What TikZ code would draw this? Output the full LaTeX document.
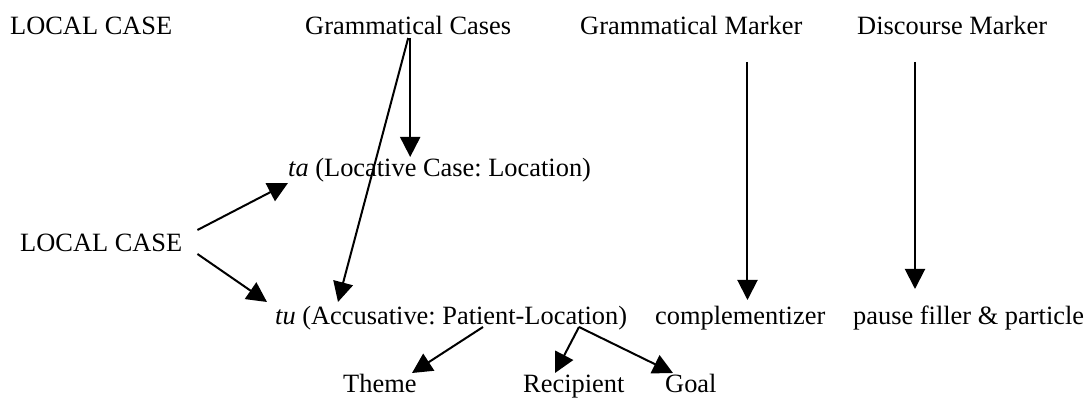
\documentclass[tikz,border=0pt]{standalone}
\usepackage{fontspec}
\setmainfont{Liberation Serif}
\usetikzlibrary{arrows.meta,calc}
\frenchspacing

\begin{document}
\begin{tikzpicture}[x=1pt,y=-1pt,
    lbl/.style={inner sep=0pt,anchor=base west,font=\fontsize{26.4}{30}\selectfont},
    arr/.style={line width=2pt,-{Triangle[length=20pt,width=20pt]}}]
        \useasboundingbox (0,0) rectangle (1088,398);
        % headings
        \node[lbl] (lcTop) at (10,35) {LOCAL CASE};
        \node[lbl] (gc) at (305,35) {Grammatical Cases};
        \node[lbl] (gm) at (580,35) {Grammatical Marker};
        \node[lbl] (dm) at (857,35) {Discourse Marker};
        % cases
        \node[lbl] (ta) at (288,177) {\textit{ta} (Locative Case: Location)};
        \node[lbl] (lc) at (20,252) {LOCAL CASE};
        \node[lbl] (tu) at (275,324) {\textit{tu} (Accusative: Patient-Location)};
        \node[lbl] (comp) at (655,324) {complementizer};
        \node[lbl] (pf) at (853,324) {pause filler \& particle};
        % roles
        \node[lbl] (theme) at (343,392) {Theme};
        \node[lbl] (rec) at (523,392) {Recipient};
        \node[lbl] (goal) at (665,392) {Goal};
        % arrows
        \draw[arr] ($(gc.base)+(2pt,-3pt)$) -- ($(gc.base |- ta.base)+(2pt,20pt)$);
        \draw[arr] ($(gc.base)+(0pt,-3pt)$) -- ($(tu.base west)+(63pt,22pt)$);
        \draw[arr] ($(lc.base east)+(15pt,22pt)$) -- ($(ta.base west)+(0pt,-6pt)$);
        \draw[arr] ($(lc.base east)+(15pt,-2pt)$) -- ($(tu.base west)+(-8pt,22pt)$);
        \draw[arr] ($(gm.base east)+(-55pt,-27pt)$) -- ($(gm.base east |- comp.base)+(-55pt,24pt)$);
        \draw[arr] ($(dm.base west)+(58pt,-27pt)$) -- ($(dm.base west |- pf.base)+(58pt,35pt)$);
        \draw[arr] ($(tu.base west)+(208pt,-3pt)$) -- ($(theme.base west)+(69pt,19pt)$);
        \draw[arr] ($(tu.base west)+(304pt,-3pt)$) -- ($(rec.base west)+(32pt,19pt)$);
        \draw[arr] ($(tu.base west)+(304pt,-3pt)$) -- ($(goal.base west)+(8pt,19pt)$);
\end{tikzpicture}
\end{document}
